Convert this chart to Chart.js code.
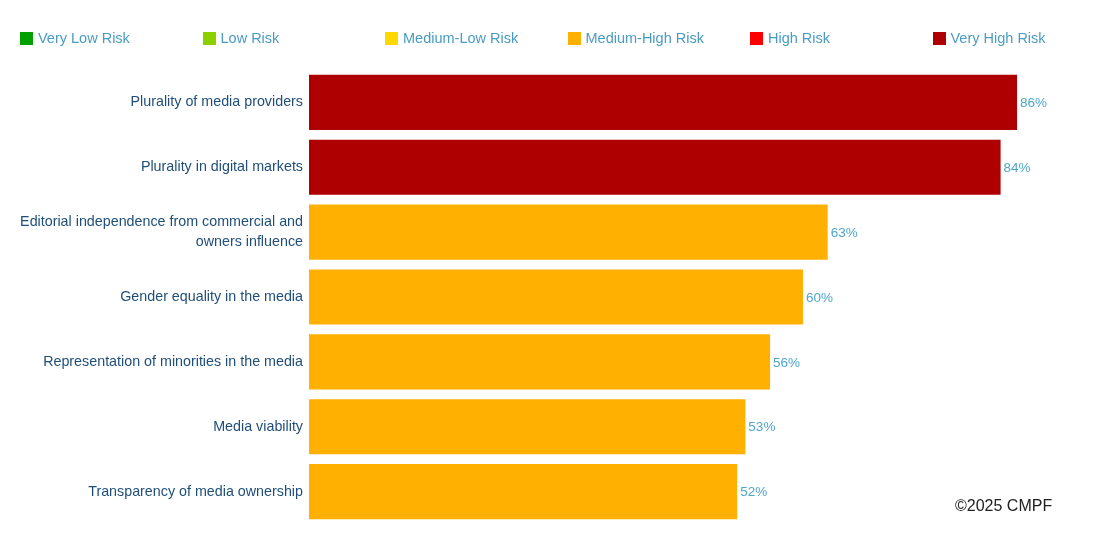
<!DOCTYPE html>
<html>
<head>
<meta charset="utf-8">
<script src="https://cdn.jsdelivr.net/npm/chart.js@4.4.1/dist/chart.umd.min.js"></script>
<style>
  body { margin: 0; background: #fff; font-family: 'Liberation Sans', Arial, sans-serif; }
  #wrap { position: relative; width: 1100px; height: 548px; }
  #legend { position: absolute; left: 20px; top: 30px; display: flex; }
  .lg { width: 182.5px; font-size: 14.5px; color: #4a9cc4; display: flex; align-items: center; }
  .lg i { display: inline-block; width: 13px; height: 13px; margin-right: 5px; }
  #copy { position: absolute; left: 955px; top: 497px; font-size: 16px; color: #222; }
</style>
</head>
<body>
<div id="wrap">
  <canvas id="riskChart" width="1100" height="548"></canvas>
  <div id="legend"></div>
  <div id="copy">©2025 CMPF</div>
</div>
<script>
// ===== DATA =====
const categories = [
  'Plurality of media providers',
  'Plurality in digital markets',
  ['Editorial independence from commercial and', 'owners influence'],
  'Gender equality in the media',
  'Representation of minorities in the media',
  'Media viability',
  'Transparency of media ownership'
];
const riskValues = [86, 84, 63, 60, 56, 53, 52];
const riskLevels = ['Very High Risk', 'Very High Risk', 'Medium-High Risk', 'Medium-High Risk',
                    'Medium-High Risk', 'Medium-High Risk', 'Medium-High Risk'];
const legendLabels = ['Very Low Risk', 'Low Risk', 'Medium-Low Risk', 'Medium-High Risk', 'High Risk', 'Very High Risk'];

const RISK_COLORS = {
  'Very Low Risk':    '#00a000',
  'Low Risk':         '#8cd000',
  'Medium-Low Risk':  '#ffd800',
  'Medium-High Risk': '#ffb000',
  'High Risk':        '#ff0000',
  'Very High Risk':   '#ae0000',
};

// ===== LEGEND (html) =====
document.getElementById('legend').innerHTML = legendLabels
  .map(l => `<div class="lg"><i style="background:${RISK_COLORS[l]}"></i>${l}</div>`)
  .join('');

// value labels at bar ends
const valueLabels = {
  id: 'valueLabels',
  afterDatasetsDraw(chart) {
    const { ctx } = chart;
    const meta = chart.getDatasetMeta(0);
    ctx.save();
    ctx.font = "13.5px 'Liberation Sans', Arial, sans-serif";
    ctx.fillStyle = '#4ea6cc';
    ctx.textAlign = 'left';
    ctx.textBaseline = 'middle';
    meta.data.forEach((bar, i) => {
      ctx.fillText(riskValues[i] + '%', bar.x + 3, bar.y + 1);
    });
    ctx.restore();
  }
};

new Chart(document.getElementById('riskChart'), {
  type: 'bar',
  data: {
    labels: categories,
    datasets: [{
      data: riskValues,
      backgroundColor: riskLevels.map(l => RISK_COLORS[l]),
      barPercentage: 0.85,
      categoryPercentage: 1,
      borderWidth: 0,
    }]
  },
  options: {
    indexAxis: 'y',
    responsive: false,
    animation: false,
    layout: { padding: { top: 70, bottom: 24, left: 0, right: 50 } },
    plugins: { legend: { display: false }, tooltip: { enabled: false } },
    scales: {
      x: { display: false, min: 0, max: 90 },
      y: {
        grid: { display: false, drawTicks: false },
        border: { display: false },
        afterFit: s => { s.width = 309; },
        ticks: {
          color: '#1f4e79',
          padding: 6,
          font: { size: 14.3, family: "'Liberation Sans', Arial, sans-serif", lineHeight: 1.45 }
        }
      }
    }
  },
  plugins: [valueLabels]
});
</script>
</body>
</html>
